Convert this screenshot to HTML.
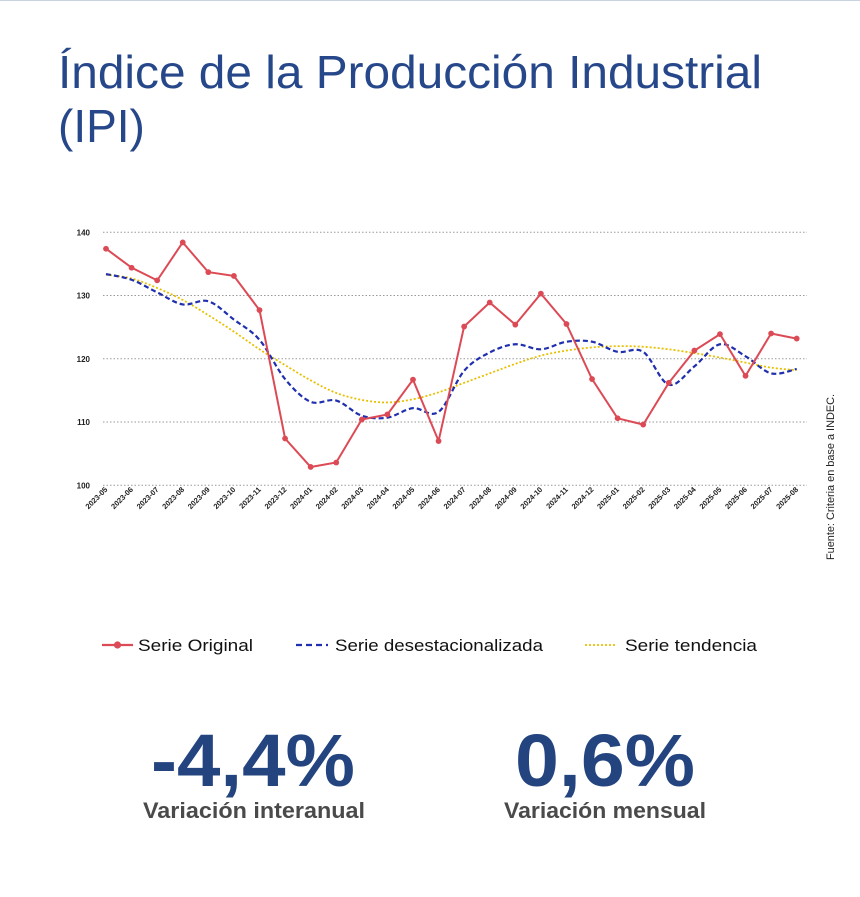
<!DOCTYPE html>
<html><head><meta charset="utf-8"><style>
body{margin:0;background:#fff;width:860px;height:892px;overflow:hidden;font-family:"Liberation Sans",sans-serif}
</style></head><body>
<svg width="860" height="892" viewBox="0 0 860 892">
<line x1="0" y1="0.5" x2="860" y2="0.5" stroke="#c9d2e0" stroke-width="1"/>
<text x="58" y="88" font-size="46" fill="#26478a" textLength="704" lengthAdjust="spacingAndGlyphs">Índice de la Producción Industrial</text>
<text x="58" y="142" font-size="46" fill="#26478a">(IPI)</text>
<g id="grid"></g>
<g id="yticks"></g>
<g id="xticks"></g>
<g id="series"></g>
<text transform="translate(834,560) rotate(-90)" font-size="11" fill="#222" textLength="166" lengthAdjust="spacingAndGlyphs">Fuente: Criteria en base a INDEC.</text>
<g>
<g>
<line x1="102" y1="645" x2="133" y2="645" stroke="#dc4a55" stroke-width="2.2"/><circle cx="117.5" cy="645" r="3.6" fill="#dc4a55"/>
<text x="138" y="651" font-size="17" fill="#111" textLength="115" lengthAdjust="spacingAndGlyphs">Serie Original</text></g>
<g>
<line x1="296" y1="645" x2="328" y2="645" stroke="#1f2fae" stroke-width="2.2" stroke-dasharray="6,4"/>
<text x="335" y="651" font-size="17" fill="#111" textLength="208" lengthAdjust="spacingAndGlyphs">Serie desestacionalizada</text></g>
<g>
<line x1="585" y1="645" x2="616" y2="645" stroke="#e8c000" stroke-width="1.8" stroke-dasharray="2,2"/>
<text x="625" y="651" font-size="17" fill="#111" textLength="132" lengthAdjust="spacingAndGlyphs">Serie tendencia</text></g>
</g>
<text x="253" y="786" font-size="74" font-weight="bold" fill="#23447f" text-anchor="middle" textLength="204" lengthAdjust="spacingAndGlyphs">-4,4%</text>
<text x="254" y="818" font-size="22" font-weight="bold" fill="#4a4a4a" text-anchor="middle" textLength="222" lengthAdjust="spacingAndGlyphs">Variación interanual</text>
<text x="605" y="786" font-size="74" font-weight="bold" fill="#23447f" text-anchor="middle" textLength="180" lengthAdjust="spacingAndGlyphs">0,6%</text>
<text x="605" y="818" font-size="22" font-weight="bold" fill="#4a4a4a" text-anchor="middle" textLength="202" lengthAdjust="spacingAndGlyphs">Variación mensual</text>
</svg>
<script>
const categories=["2023-05","2023-06","2023-07","2023-08","2023-09","2023-10","2023-11","2023-12","2024-01","2024-02","2024-03","2024-04","2024-05","2024-06","2024-07","2024-08","2024-09","2024-10","2024-11","2024-12","2025-01","2025-02","2025-03","2025-04","2025-05","2025-06","2025-07","2025-08"];
const original=[137.4,134.4,132.4,138.4,133.7,133.1,127.7,107.4,102.9,103.6,110.4,111.2,116.7,107.0,125.1,128.9,125.4,130.3,125.5,116.8,110.6,109.6,116.2,121.3,123.9,117.3,124.0,123.2];
const desest=[133.4,132.5,130.5,128.6,129.1,126.2,123.0,116.8,113.2,113.4,111.0,110.7,112.2,111.6,118.1,121.0,122.3,121.5,122.7,122.7,121.1,121.1,115.9,118.8,122.3,120.4,117.7,118.4];
const tendencia=[133.3,132.7,131.2,129.3,126.9,124.3,121.5,119.0,116.6,114.6,113.5,113.1,113.6,114.7,116.2,117.7,119.2,120.5,121.3,121.8,122.0,121.9,121.5,120.9,120.2,119.4,118.6,118.2];
const yTicks=[100,110,120,130,140];
const NS="http://www.w3.org/2000/svg";
const x0=106,x1=796.7,yMin=100,yMax=140,py0=485.3,py1=232.3;
function xs(i){return x0+(x1-x0)*i/(categories.length-1);}
function ys(v){return py0-(v-yMin)*(py0-py1)/(yMax-yMin);}
function mk(tag,attrs,parent){const e=document.createElementNS(NS,tag);for(const k in attrs)e.setAttribute(k,attrs[k]);parent.appendChild(e);return e;}
const grid=document.getElementById('grid'),yt=document.getElementById('yticks'),xt=document.getElementById('xticks'),sg=document.getElementById('series');
yTicks.forEach(v=>{
 const l=mk('line',{x1:103,x2:807,y1:ys(v),y2:ys(v),stroke:'#9a9a9a','stroke-width':1,'stroke-dasharray':'1.5,2'},grid);
 
 
 const t=mk('text',{x:90,y:ys(v)+3,'font-size':8,'font-weight':'bold','text-anchor':'end',fill:'#222'},yt);
 t.textContent=v;
 
 
});
categories.forEach((c,i)=>{
 const t=mk('text',{transform:`translate(${xs(i)+2},${490}) rotate(-45)`,'font-size':7.5,'font-weight':'bold','text-anchor':'end',fill:'#222'},xt);
 t.textContent=c;
 
 
});
function pts(arr){return arr.map((v,i)=>xs(i).toFixed(1)+','+ys(v).toFixed(1)).join(' ');}
function smooth(arr){let d='M'+xs(0)+','+ys(arr[0]);for(let i=0;i<arr.length-1;i++){const p0=[xs(Math.max(i-1,0)),ys(arr[Math.max(i-1,0)])],p1=[xs(i),ys(arr[i])],p2=[xs(i+1),ys(arr[i+1])],p3=[xs(Math.min(i+2,arr.length-1)),ys(arr[Math.min(i+2,arr.length-1)])];const c1=[p1[0]+(p2[0]-p0[0])/6,p1[1]+(p2[1]-p0[1])/6],c2=[p2[0]-(p3[0]-p1[0])/6,p2[1]-(p3[1]-p1[1])/6];d+=` C${c1[0]},${c1[1]} ${c2[0]},${c2[1]} ${p2[0]},${p2[1]}`;}return d;}
const tl=mk('path',{d:smooth(tendencia),fill:'none',stroke:'#e8c000','stroke-width':1.8,'stroke-dasharray':'2,2'},sg);


const dl=mk('path',{d:smooth(desest),fill:'none',stroke:'#1f2fae','stroke-width':2.2,'stroke-dasharray':'5,3'},sg);


const ol=mk('polyline',{points:pts(original),fill:'none',stroke:'#dc4a55','stroke-width':2},sg);


original.forEach((v,i)=>{
 const c=mk('circle',{cx:xs(i),cy:ys(v),r:2.9,fill:'#dc4a55'},sg);
 
 
});
</script>
</body></html>
